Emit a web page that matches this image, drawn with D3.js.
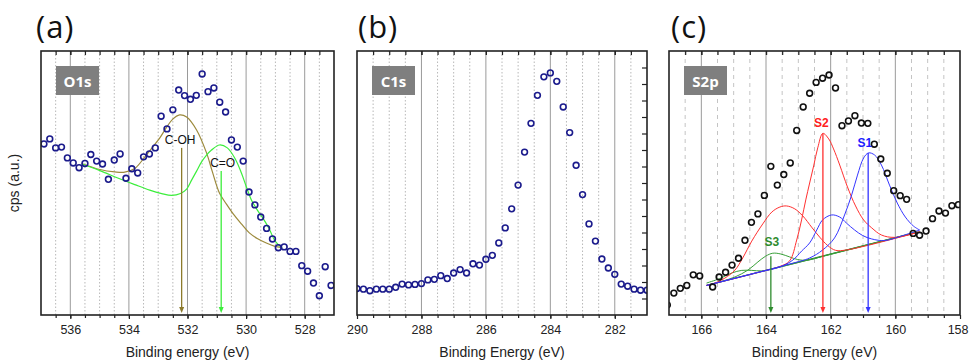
<!DOCTYPE html>
<html><head><meta charset="utf-8">
<script src="https://cdn.jsdelivr.net/npm/d3@7"></script>
<style>body{margin:0;background:#fff} svg{display:block}</style>
</head><body>
<svg id="chart" width="969" height="360"></svg>
<script>
// ---------- DATA ----------
// (a) O1s
const o1sEnergy = [536.9,536.7,536.5,536.3,536.1,535.9,535.7,535.5,535.3,535.1,534.9,534.7,534.5,534.3,534.1,533.9,533.7,533.5,533.3,533.1,532.9,532.7,532.5,532.3,532.1,531.9,531.7,531.5,531.3,531.1,530.9,530.7,530.5,530.3,530.1,529.9,529.7,529.5,529.3,529.1,528.9,528.7,528.5,528.3,528.1,527.9,527.7,527.5,527.3,527.1];
const o1sCounts = [64.8,66.7,63.3,63.6,59.5,57.6,55.8,57.4,60.8,58.3,57.2,51.4,58.7,61.0,51.8,55.4,53.8,59.9,61.0,63.3,75.3,70.5,77.7,85.2,83.1,81.7,83.2,91.3,84.6,86.0,80.6,76.9,66.3,63.6,58.3,46.6,41.7,37.1,32.8,28.8,25.5,25.8,24.1,24.1,18.7,16.6,12.1,7.3,18.3,11.2];
const cohFitE = [535.61,534.99,534.48,534.14,533.80,533.46,533.19,532.95,532.71,532.51,532.27,532.03,531.69,531.35,531.15,530.91,530.67,530.44,530.16,529.89,529.62,529.31,529.04,528.77];
const cohFitV = [57.4,55.1,54.2,54.1,55.5,59.8,63.6,67.0,71.2,74.1,75.8,75.0,70.1,61.4,54.2,46.2,42.0,38.3,34.5,31.1,29.0,27.3,26.1,25.5];
const coFitE = [535.61,534.99,534.38,533.80,533.29,532.88,532.54,532.24,532.03,531.86,531.69,531.52,531.35,531.18,530.91,530.64,530.37,530.16,529.99,529.82,529.62,529.41,529.21,529.01,528.77];
const coFitV = [57.2,54.7,51.9,49.4,47.3,46.0,45.3,46.0,47.7,51.1,54.5,58.0,60.6,62.5,64.4,63.3,59.1,53.8,48.5,43.6,39.8,36.4,32.6,28.0,25.4];
const o1sPeaks = ["C-OH","C=O"];
const o1sPeakE = [532.2,530.85];
const o1sLabelV = [64.6,56.0];
const o1sArrowTop = [63.3,54.5];

// (b) C1s
const c1sEnergy = [290.0,289.8,289.6,289.4,289.2,289.0,288.8,288.6,288.4,288.2,288.0,287.8,287.6,287.4,287.2,287.0,286.8,286.6,286.4,286.2,286.0,285.8,285.6,285.4,285.2,285.0,284.8,284.6,284.4,284.2,284.0,283.8,283.6,283.4,283.2,283.0,282.8,282.6,282.4,282.2,282.0,281.8,281.6,281.4,281.2,281.0];
const c1sCounts = [10.0,9.8,9.2,9.8,9.8,9.8,10.5,11.7,11.4,11.6,11.9,13.3,13.5,14.9,13.8,15.9,17.2,15.9,19.4,18.9,21.1,22.6,27.3,33.0,40.2,49.2,61.7,72.6,83.2,90.2,91.7,88.5,78.8,69.1,56.7,45.6,34.5,28.0,21.2,17.8,15.4,11.7,10.9,9.8,9.4,9.4];

// (c) S2p
const s2pEnergy = [167.05,166.85,166.65,166.45,166.25,166.05,165.65,165.45,165.25,165.05,164.85,164.65,164.45,164.25,164.05,163.85,163.65,163.45,163.25,163.05,162.85,162.65,162.45,162.25,162.05,161.85,161.65,161.45,161.25,161.05,160.85,160.65,160.45,160.25,160.05,159.85,159.65,159.45,159.25,159.05,158.85,158.65,158.45,158.25,158.05];
const s2pCounts = [3.8,8.3,10.1,11.2,15.2,14.8,10.6,14.4,16.2,18.9,21.5,28.3,35.1,38.3,45.3,56.3,49.2,53.2,57.6,69.9,78.8,84.0,88.1,89.7,90.9,86.0,71.7,73.5,75.5,72.7,72.6,64.7,59.1,53.7,47.1,45.2,43.8,30.9,30.2,31.8,36.5,39.4,38.6,41.4,41.8];
const bgE = [165.84,159.31];
const bgV = [11.2,31.4];
const s3aE = [165.84,165.43,164.96,164.56,164.25,164.01,163.79,163.54,163.27,163.02,162.71,162.03,159.31];
const s3aV = [11.2,12.5,14.4,17.0,20.1,22.3,23.4,23.1,22.0,21.0,20.8,23.0,31.4];
const s3bE = [165.84,165.43,165.06,164.75,164.44,164.13,163.73,159.31];
const s3bV = [12.1,13.8,15.9,16.9,16.9,16.7,17.7,31.4];
const s2aE = [165.84,164.19,163.57,163.27,163.05,162.90,162.77,162.65,162.52,162.40,162.24,162.06,161.91,161.72,161.48,161.23,160.98,160.73,160.43,160.02,159.25];
const s2aV = [11.2,16.3,18.4,20.5,28.4,36.0,43.6,50.0,56.8,63.3,68.8,66.7,62.9,56.8,48.5,41.3,36.0,33.0,30.3,29.4,31.5];
const s2bE = [165.84,165.58,165.27,164.96,164.72,164.44,164.10,163.82,163.57,163.36,163.11,162.86,162.59,162.34,162.09,161.85,161.48,159.25];
const s2bV = [11.2,12.1,14.0,17.0,21.6,28.0,34.5,39.0,40.9,41.3,40.2,37.5,33.3,29.5,26.3,24.5,24.7,31.5];
const s1aE = [165.84,163.27,162.65,162.25,161.88,161.57,161.35,161.17,160.98,160.83,160.64,160.43,160.18,159.94,159.69,159.44,159.25];
const s1aV = [11.2,19.3,21.6,24.6,29.2,37.9,45.5,53.0,59.5,61.4,60.6,56.8,49.2,42.4,37.1,33.7,32.2];
const s1bE = [165.84,164.19,163.57,163.17,162.90,162.65,162.43,162.25,161.97,161.72,161.51,161.26,161.01,160.73,160.33,159.87,159.25];
const s1bV = [11.2,16.3,18.2,20.8,24.2,27.3,32.2,36.0,37.9,37.1,34.8,32.2,30.1,28.8,28.2,29.7,32.2];
const s2pPeaks = ["S2","S1","S3"];
const s2pPeakE = [162.24,160.84,163.85];
const s2pLabelV = [71.4,63.5,26.0];
const s2pArrowTop = [68.8,61.4,22.3];

// ticks
const ticksA = [536,534,532,530,528];
const ticksB = [290,288,286,284,282];
const ticksC = [166,164,162,160,158];

// ---------- DRAW ----------
const svg = d3.select("#chart");
const TOP = 51, BOT = 315;
const y = d3.scaleLinear().domain([0,100]).range([BOT,TOP]);
const FONT = "'Liberation Sans', Arial, sans-serif";

function panel(cfg){
  const x = d3.scaleLinear().domain(cfg.domain).range([cfg.left,cfg.right]);
  const g = svg.append("g");
  const id = "clip"+cfg.key;
  svg.append("clipPath").attr("id",id).append("rect")
     .attr("x",cfg.left).attr("y",TOP).attr("width",cfg.right-cfg.left).attr("height",BOT-TOP);
  const lo = Math.min(...cfg.domain), hi = Math.max(...cfg.domain);
  const minors = d3.range(Math.ceil(lo*2)/2, hi+0.001, 0.5).filter(v=>v>lo && v<hi);
  g.append("g").selectAll("line").data(minors.filter(v=>v%2!==0)).join("line")
    .attr("x1",d=>x(d)).attr("x2",d=>x(d)).attr("y1",TOP).attr("y2",BOT)
    .attr("stroke",cfg.gridMinorColor).attr("stroke-width",1)
    .attr("stroke-dasharray",cfg.gridDash);
  g.append("g").selectAll("line").data(cfg.ticks.filter(v=>v>lo && v<hi)).join("line")
    .attr("x1",d=>x(d)).attr("x2",d=>x(d)).attr("y1",TOP).attr("y2",BOT)
    .attr("stroke","#9a9a9a").attr("stroke-width",1);

  const cg = g.append("g").attr("clip-path",`url(#${id})`);
  const line = d3.line().x(d=>x(d[0])).y(d=>y(d[1])).curve(d3.curveCatmullRom.alpha(0.5));
  (cfg.curves||[]).forEach(c=>{
    cg.append("path").datum(c.e.map((e,i)=>[e,c.v[i]]))
      .attr("d",line).attr("fill","none").attr("stroke",c.color).attr("stroke-width",c.w||1);
  });
  (cfg.arrows||[]).forEach(a=>{
    const ax = x(a.e);
    cg.append("line").attr("x1",ax).attr("x2",ax).attr("y1",y(a.top)).attr("y2",BOT-6)
      .attr("stroke",a.color).attr("stroke-width",1.3);
    cg.append("path").attr("d",`M${ax-2.5},${BOT-8}L${ax+2.5},${BOT-8}L${ax},${BOT-2}Z`)
      .attr("fill",a.color);
  });
  (cfg.labels||[]).forEach(l=>{
    g.append("text").attr("x",x(l.e)).attr("y",y(l.v)).attr("text-anchor","middle")
      .attr("font-family",FONT).attr("font-size",l.size||12).attr("font-weight",l.bold?"bold":"normal")
      .attr("fill",l.color).text(l.text);
  });
  cg.append("g").selectAll("circle").data(cfg.e.map((e,i)=>[e,cfg.v[i]])).join("circle")
    .attr("cx",d=>x(d[0])).attr("cy",d=>y(d[1])).attr("r",2.9)
    .attr("fill","none").attr("stroke",cfg.ptColor).attr("stroke-width",1.6);

  g.append("rect").attr("x",cfg.left+15).attr("y",66).attr("width",43).attr("height",29).attr("fill","#7f7f7f");
  g.append("text").attr("x",cfg.left+36.5).attr("y",86.5).attr("text-anchor","middle")
    .attr("font-family","'Open Sans', sans-serif").attr("font-weight","bold").attr("font-size",15)
    .attr("fill","#fff").text(cfg.box);

  const bottom = g.append("g").attr("transform",`translate(0,${BOT})`)
    .call(d3.axisBottom(x).tickValues(cfg.ticks).tickSize(4).tickSizeOuter(0).tickFormat(d3.format("d")));
  bottom.select(".domain").remove();
  bottom.selectAll("text").attr("font-family",FONT).attr("font-size",12.5).attr("fill","#222").attr("dy","0.95em")
    .attr("text-anchor",d=>x(d)>cfg.right-1 ? "end" : "middle")
    .attr("dx",d=>x(d)>cfg.right-1 ? 8 : 0);
  const bminor = g.append("g").attr("transform",`translate(0,${BOT})`)
    .call(d3.axisBottom(x).tickValues(minors).tickSize(3).tickFormat(""));
  bminor.select(".domain").remove();
  const topAx = g.append("g").attr("transform",`translate(0,${TOP})`)
    .call(d3.axisBottom(x).tickValues(minors.concat(cfg.ticks.filter(v=>v>lo&&v<hi))).tickSize(4).tickFormat(""));
  topAx.select(".domain").remove();
  g.selectAll(".tick line").attr("stroke","#222").attr("stroke-width",1.2);
  if(cfg.rightTicks){
    const yr = d3.scaleLinear().domain([0,16]).range([BOT,TOP]);
    const ra = g.append("g").attr("transform",`translate(${cfg.right},0)`)
      .call(d3.axisLeft(yr).tickValues(d3.range(1,16)).tickSize(5).tickFormat(""));
    ra.select(".domain").remove();
    ra.selectAll(".tick line").attr("stroke","#222").attr("stroke-width",1.2);
  }
  g.append("rect").attr("x",cfg.left).attr("y",TOP).attr("width",cfg.right-cfg.left).attr("height",BOT-TOP)
    .attr("fill","none").attr("stroke","#222").attr("stroke-width",1.6);
  g.append("text").attr("x",(cfg.left+cfg.right)/2).attr("y",357).attr("text-anchor","middle")
    .attr("font-family",FONT).attr("font-size",14).attr("fill","#222").text(cfg.xlabel);
  g.append("text").attr("x",cfg.tagX).attr("y",38).attr("font-family","'Open Sans', sans-serif")
    .attr("font-size",31).attr("letter-spacing",1).attr("fill","#111").text(cfg.tag);
}

panel({key:"a",domain:[537,527],left:41,right:334,ticks:ticksA,e:o1sEnergy,v:o1sCounts,ptColor:"#1b1b8c",
  gridMinorColor:"#b8b8b8",gridDash:"1.5,2",box:"O1s",xlabel:"Binding energy (eV)",tag:"(a)",tagX:36,
  curves:[{e:cohFitE,v:cohFitV,color:"#9c8a3c",w:1.2},{e:coFitE,v:coFitV,color:"#3cee3c",w:1.2}],
  arrows:[{e:o1sPeakE[0],top:o1sArrowTop[0],color:"#8c7a2c"},{e:o1sPeakE[1],top:o1sArrowTop[1],color:"#3cee3c"}],
  labels:[{e:o1sPeakE[0]+0.05,v:o1sLabelV[0],text:o1sPeaks[0],color:"#111"},{e:o1sPeakE[1]-0.05,v:o1sLabelV[1],text:o1sPeaks[1],color:"#111"}]
});
panel({key:"b",domain:[290,281],left:357,right:647,ticks:ticksB,e:c1sEnergy,v:c1sCounts,ptColor:"#1b1b8c",
  gridMinorColor:"#b8b8b8",gridDash:"1.5,2",box:"C1s",xlabel:"Binding Energy (eV)",tag:"(b)",tagX:358,rightTicks:true});
panel({key:"c",domain:[167,158],left:669,right:960,ticks:ticksC,e:s2pEnergy,v:s2pCounts,ptColor:"#111",
  gridMinorColor:"#c4c4c4",gridDash:"4,4",box:"S2p",xlabel:"Binding Energy (eV)",tag:"(c)",tagX:671,
  curves:[{e:bgE,v:bgV,color:"#2d6e3a",w:1.3},{e:s3bE,v:s3bV,color:"#38a038"},{e:s3aE,v:s3aV,color:"#38a038"},
          {e:s2bE,v:s2bV,color:"#ff3030"},{e:s2aE,v:s2aV,color:"#ff3030"},
          {e:s1bE,v:s1bV,color:"#3535ff"},{e:s1aE,v:s1aV,color:"#3535ff"}],
  arrows:[{e:s2pPeakE[0],top:s2pArrowTop[0],color:"#ff3030"},{e:s2pPeakE[1],top:s2pArrowTop[1],color:"#3535ff"},{e:s2pPeakE[2],top:s2pArrowTop[2],color:"#2e8b2e"}],
  labels:[{e:s2pPeakE[0]+0.05,v:s2pLabelV[0],text:s2pPeaks[0],color:"#ff2020",bold:true},
          {e:s2pPeakE[1]+0.1,v:s2pLabelV[1],text:s2pPeaks[1],color:"#2020ff",bold:true},
          {e:s2pPeakE[2]-0.03,v:s2pLabelV[2],text:s2pPeaks[2],color:"#2e8b2e",bold:true}]
});
svg.append("text").attr("transform","translate(19,183) rotate(-90)").attr("text-anchor","middle")
  .attr("font-family",FONT).attr("font-size",14).attr("fill","#222").text("cps (a.u.)");
</script>
</body></html>
